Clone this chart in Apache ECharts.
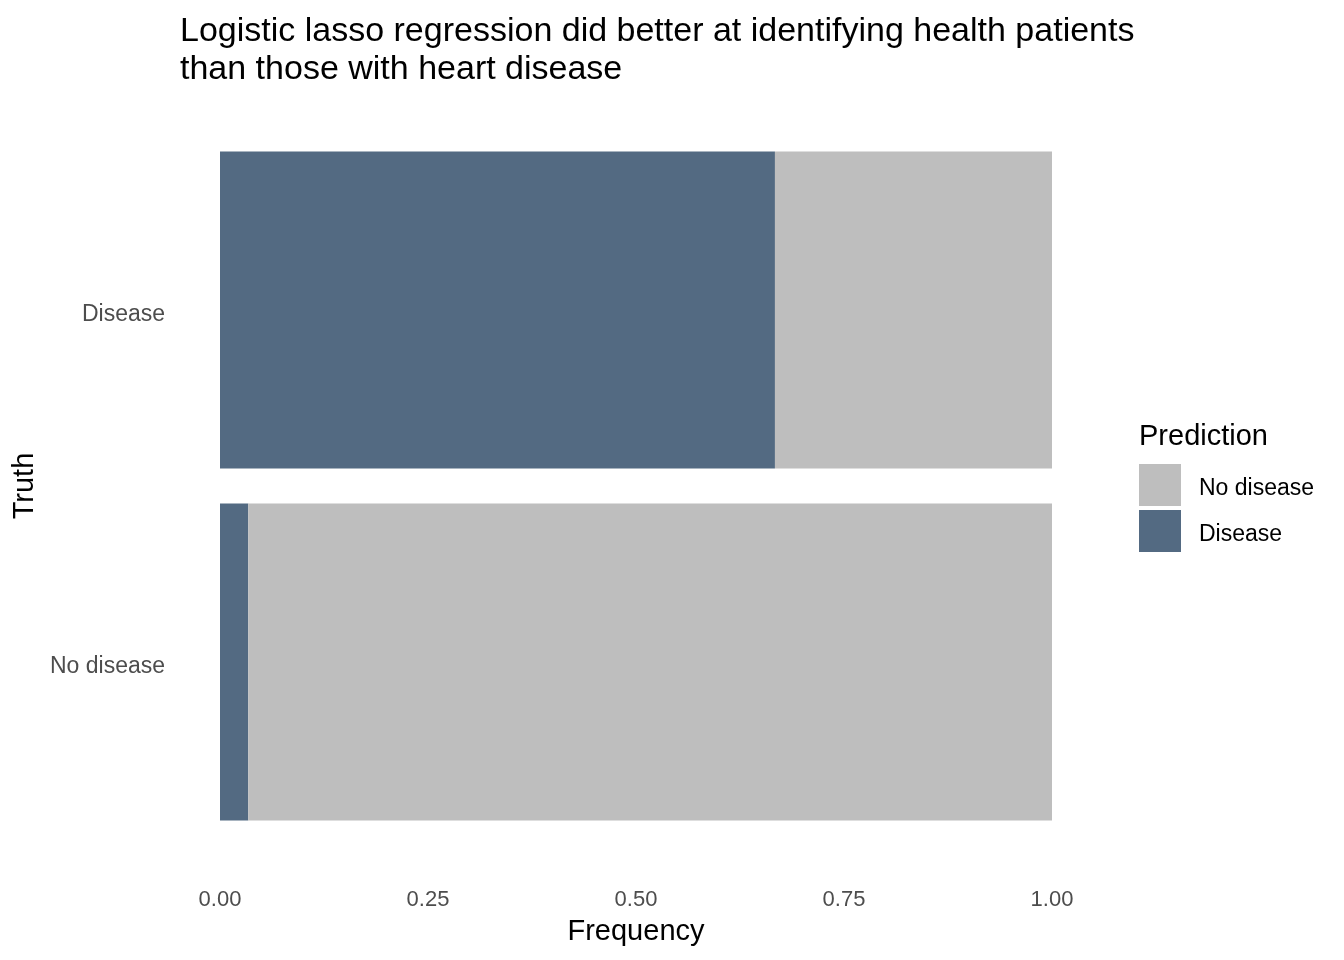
<!DOCTYPE html>
<html>
<head>
<meta charset="utf-8">
<script src="https://cdn.jsdelivr.net/npm/echarts@6/dist/echarts.min.js"></script>
<style>html,body{margin:0;padding:0;background:#fff}#c{width:1344px;height:960px}</style>
</head>
<body>
<div id="c"></div>
<script>
const categories = ['No disease', 'Disease'];
const predDisease = [0.034, 0.667];
const predNoDisease = [0.966, 0.333];
const xTicks = [0, 0.25, 0.5, 0.75, 1];

const FONT = '"Liberation Sans", Arial, sans-serif';
const chart = echarts.init(document.getElementById('c'));
chart.setOption({
  backgroundColor: '#ffffff',
  animation: false,
  textStyle: { fontFamily: FONT },
  title: [
    {
      text: 'Logistic lasso regression did better at identifying health patients\nthan those with heart disease',
      left: 175, top: 8,
      textStyle: { fontFamily: FONT, fontSize: 34, fontWeight: 'normal', color: '#000', lineHeight: 38 }
    },
    {
      text: 'Prediction', left: 1134, top: 417,
      textStyle: { fontFamily: FONT, fontSize: 29, fontWeight: 'normal', color: '#000' }
    }
  ],
  legend: {
    data: ['No disease', 'Disease'],
    orient: 'vertical', left: 1134, top: 459,
    itemWidth: 42, itemHeight: 42, itemGap: 4,
    icon: 'rect',
    formatter: n => '{t|' + n + '}',
    textStyle: {
      fontFamily: FONT, fontSize: 23, color: '#000',
      rich: { t: { fontFamily: FONT, fontSize: 23, color: '#000', padding: [7, 0, 0, 13] } }
    }
  },
  grid: { left: 220, width: 832, top: 134, height: 704, containLabel: false },
  xAxis: {
    type: 'value', min: 0, max: 1, interval: 0.25,
    name: 'Frequency', nameLocation: 'middle', nameGap: 79,
    nameTextStyle: { fontFamily: FONT, fontSize: 29, color: '#000' },
    axisLine: { show: false }, axisTick: { show: false }, splitLine: { show: false },
    axisLabel: {
      margin: 51, fontSize: 22, color: '#4D4D4D', fontFamily: FONT,
      formatter: v => xTicks.includes(v) ? v.toFixed(2) : ''
    }
  },
  yAxis: {
    type: 'category', data: categories,
    name: 'Truth', nameLocation: 'middle', nameGap: 176, nameRotate: 90,
    nameTextStyle: { fontFamily: FONT, fontSize: 29, color: '#000' },
    axisLine: { show: false }, axisTick: { show: false }, splitLine: { show: false },
    axisLabel: {
      margin: 55, fontSize: 23, color: '#4D4D4D', fontFamily: FONT,
      formatter: v => '{t|' + v + '}',
      rich: { t: { fontFamily: FONT, fontSize: 23, color: '#4D4D4D', padding: [9, 0, 0, 0] } }
    }
  },
  series: [
    { name: 'Disease', type: 'bar', stack: 's', data: predDisease, barWidth: '90%',
      itemStyle: { color: '#536A82' } },
    { name: 'No disease', type: 'bar', stack: 's', data: predNoDisease, barWidth: '90%',
      itemStyle: { color: '#BEBEBE' } }
  ]
});
</script>
</body>
</html>
